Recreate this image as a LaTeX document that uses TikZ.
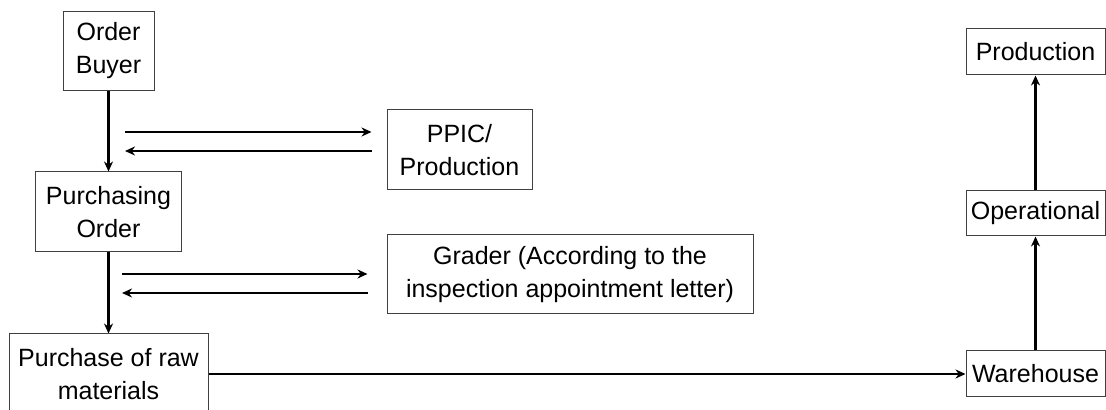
\documentclass[tikz,border=0pt]{standalone}
\usepackage{fontspec}
\setmainfont{Liberation Sans}
\usetikzlibrary{calc, arrows.meta}
\tikzset{
  font=\fontsize{12.5pt}{16.5pt}\selectfont,
  % Set arrowhead
  >={Stealth[length=5pt, width=4.5pt]},
  % Process box
  box/.style={draw=black!75, line width=0.5pt, align=center, inner sep=0pt},
  % Flow arrows
  flow/.style={->, line width=1.4pt},
}
\begin{document}
\begin{tikzpicture}[x=0.5pt, y=-0.5pt]
  \useasboundingbox (0,0) rectangle (1106,410);

  % Left column
  \node[box, minimum width=45.5pt, minimum height=39.5pt] (ob) at (108.5,51) {Order\\Buyer};
  \node[box, minimum width=73pt, minimum height=40pt] (po) at (108.5,212) {Purchasing\\Order};
  \node[box, minimum width=99.5pt, minimum height=40pt] (praw) at (108.5,374) {Purchase of raw\\materials};

  % Middle column
  \node[box, minimum width=72.5pt, minimum height=40pt] (ppic) at (459.5,150) {PPIC/\\Production};
  \node[box, minimum width=183pt, minimum height=39.5pt] (grader) at (570,274.5) {Grader (According to the\\inspection appointment letter)};

  % Right column
  \node[box, minimum width=69.5pt, minimum height=23pt] (wh) at (1035.5,374) {Warehouse};
  \node[box, minimum width=69.5pt, minimum height=22.5pt] (op) at (1035.5,213.5) {Operational};
  \node[box, minimum width=69.5pt, minimum height=23pt] (prod) at (1035.5,52) {Production};

  \draw[flow] (ob) -- (po);
  \draw[flow] (po) -- (praw);
  \draw[flow] (praw) -- (wh);
  \draw[flow] (wh) -- (op);
  \draw[flow] (op) -- (prod);

  % Exchanges with PPIC and grader
  \coordinate (s1) at (125,132);
  \coordinate (s2) at (125,151);
  \coordinate (s3) at (122,274);
  \coordinate (s4) at (122,293);
  \draw[flow, shorten >=7.5pt] (s1) -- (s1 -| ppic.west);
  \draw[flow, <-, shorten >=7.5pt] (s2) -- (s2 -| ppic.west);
  \draw[flow, shorten >=9.5pt] (s3) -- (s3 -| grader.west);
  \draw[flow, <-, shorten >=9.5pt] (s4) -- (s4 -| grader.west);
\end{tikzpicture}
\end{document}
